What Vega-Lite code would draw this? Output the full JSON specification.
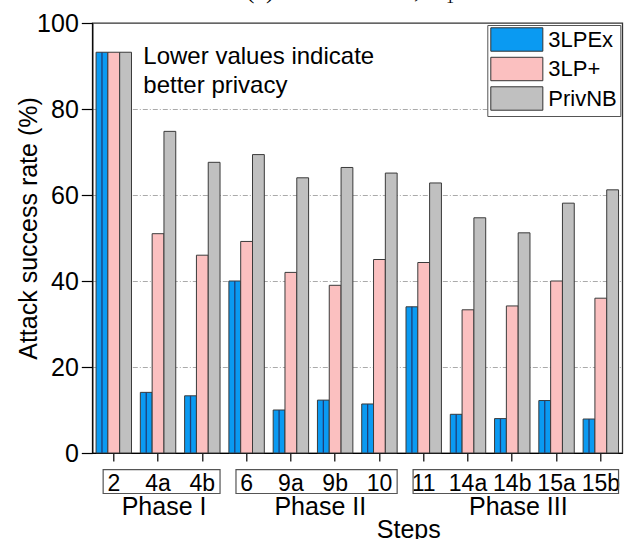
{
  "$schema": "https://vega.github.io/schema/vega-lite/v6.json",
  "width": 530,
  "height": 430,
  "autosize": {"type": "none"},
  "padding": {"left": 92.3, "top": 23, "right": 2.7, "bottom": 86},
  "title": {
    "text": "(a) First data set, D₁",
    "font": "Liberation Serif",
    "fontSize": 26,
    "fontWeight": "normal",
    "color": "#000000",
    "baseline": "alphabetic",
    "offset": -13,
    "anchor": "middle",
    "dx": -7
  },
  "config": {
    "font": "Liberation Sans",
    "view": {"stroke": "#333333", "strokeWidth": 1.3},
    "axis": {
      "domainColor": "#000000",
      "domainWidth": 1.2,
      "tickColor": "#000000",
      "tickWidth": 1.2,
      "labelColor": "#000000",
      "titleColor": "#000000",
      "labelFont": "Liberation Sans",
      "titleFont": "Liberation Sans",
      "titleFontWeight": "normal"
    }
  },
  "datasets": {
    "rates": [
      {"step": "2", "phase": "Phase I", "method": "3LPEx", "value": 93.2},
      {"step": "2", "phase": "Phase I", "method": "3LP+", "value": 93.2},
      {"step": "2", "phase": "Phase I", "method": "PrivNB", "value": 93.2},
      {"step": "4a", "phase": "Phase I", "method": "3LPEx", "value": 14.1},
      {"step": "4a", "phase": "Phase I", "method": "3LP+", "value": 51.0},
      {"step": "4a", "phase": "Phase I", "method": "PrivNB", "value": 74.8},
      {"step": "4b", "phase": "Phase I", "method": "3LPEx", "value": 13.3},
      {"step": "4b", "phase": "Phase I", "method": "3LP+", "value": 46.0},
      {"step": "4b", "phase": "Phase I", "method": "PrivNB", "value": 67.6},
      {"step": "6", "phase": "Phase II", "method": "3LPEx", "value": 40.0},
      {"step": "6", "phase": "Phase II", "method": "3LP+", "value": 49.2},
      {"step": "6", "phase": "Phase II", "method": "PrivNB", "value": 69.4},
      {"step": "9a", "phase": "Phase II", "method": "3LPEx", "value": 10.0},
      {"step": "9a", "phase": "Phase II", "method": "3LP+", "value": 42.0},
      {"step": "9a", "phase": "Phase II", "method": "PrivNB", "value": 64.0},
      {"step": "9b", "phase": "Phase II", "method": "3LPEx", "value": 12.3},
      {"step": "9b", "phase": "Phase II", "method": "3LP+", "value": 39.0},
      {"step": "9b", "phase": "Phase II", "method": "PrivNB", "value": 66.4},
      {"step": "10", "phase": "Phase II", "method": "3LPEx", "value": 11.4},
      {"step": "10", "phase": "Phase II", "method": "3LP+", "value": 45.0},
      {"step": "10", "phase": "Phase II", "method": "PrivNB", "value": 65.1},
      {"step": "11", "phase": "Phase III", "method": "3LPEx", "value": 34.0},
      {"step": "11", "phase": "Phase III", "method": "3LP+", "value": 44.3},
      {"step": "11", "phase": "Phase III", "method": "PrivNB", "value": 62.8},
      {"step": "14a", "phase": "Phase III", "method": "3LPEx", "value": 9.0},
      {"step": "14a", "phase": "Phase III", "method": "3LP+", "value": 33.3},
      {"step": "14a", "phase": "Phase III", "method": "PrivNB", "value": 54.7},
      {"step": "14b", "phase": "Phase III", "method": "3LPEx", "value": 8.0},
      {"step": "14b", "phase": "Phase III", "method": "3LP+", "value": 34.2},
      {"step": "14b", "phase": "Phase III", "method": "PrivNB", "value": 51.2},
      {"step": "15a", "phase": "Phase III", "method": "3LPEx", "value": 12.2},
      {"step": "15a", "phase": "Phase III", "method": "3LP+", "value": 40.0},
      {"step": "15a", "phase": "Phase III", "method": "PrivNB", "value": 58.1},
      {"step": "15b", "phase": "Phase III", "method": "3LPEx", "value": 7.9},
      {"step": "15b", "phase": "Phase III", "method": "3LP+", "value": 36.0},
      {"step": "15b", "phase": "Phase III", "method": "PrivNB", "value": 61.2}
    ],
    "phaseBoxes": [
      {"phase": "Phase I", "from": "2", "to": "4b"},
      {"phase": "Phase II", "from": "6", "to": "10"},
      {"phase": "Phase III", "from": "11", "to": "15b"}
    ],
    "phaseLabels": [
      {"phase": "Phase I", "at": "4a"},
      {"phase": "Phase II", "at": "9b"},
      {"phase": "Phase III", "at": "14b"}
    ],
    "notes": [
      {"note": "Lower values indicate\nbetter privacy", "at": "4a"}
    ]
  },
  "layer": [
    {
      "data": {"name": "rates"},
      "mark": {"type": "bar", "stroke": "#3a3a3a", "strokeWidth": 1},
      "encoding": {
        "x": {
          "field": "step",
          "type": "nominal",
          "title": "Steps",
          "scale": {
            "domain": ["2", "4a", "4b", "6", "9a", "9b", "10", "11", "14a", "14b", "15a", "15b"],
            "paddingInner": 0.2,
            "paddingOuter": 0.085
          },
          "axis": {
            "labelAngle": 0,
            "labelFontSize": 23,
            "labelPadding": 11,
            "tickSize": 8,
            "titleFontSize": 25,
            "titleX": 316,
            "titleY": 76,
            "titleAlign": "center",
            "titleBaseline": "middle"
          }
        },
        "xOffset": {
          "field": "method",
          "type": "nominal",
          "sort": ["3LPEx", "3LP+", "PrivNB"],
          "scale": {"paddingInner": 0, "paddingOuter": 0}
        },
        "y": {
          "field": "value",
          "type": "quantitative",
          "title": "Attack success rate (%)",
          "scale": {"domain": [0, 100], "nice": false},
          "axis": {
            "values": [0, 20, 40, 60, 80, 100],
            "labelFontSize": 25,
            "labelPadding": 3,
            "tickSize": 11,
            "grid": true,
            "gridColor": "#aaaaaa",
            "gridWidth": 1,
            "gridDash": [5, 2, 1, 2],
            "gridOpacity": {
              "condition": {"test": "datum.value === 0 || datum.value === 100", "value": 0},
              "value": 1
            },
            "titleFontSize": 25,
            "titleX": -64,
            "titleY": 205,
            "titleBaseline": "middle"
          }
        },
        "color": {
          "field": "method",
          "type": "nominal",
          "scale": {
            "domain": ["3LPEx", "3LP+", "PrivNB"],
            "range": ["#0A9AF2", "#FBC0C0", "#C0C0C0"]
          },
          "legend": {
            "title": null,
            "orient": "top-right",
            "offset": 2,
            "strokeColor": "#555555",
            "fillColor": "#ffffff",
            "padding": 3,
            "labelFontSize": 22,
            "labelColor": "#000000",
            "labelOffset": 35,
            "rowPadding": 0.5,
            "symbolType": "M-1,-1.064H3.73V1.064H-1Z",
            "symbolSize": 484,
            "symbolStrokeColor": "#333333",
            "symbolStrokeWidth": 1,
            "symbolOpacity": 1
          }
        }
      }
    },
    {
      "data": {"name": "rates"},
      "transform": [{"filter": "datum.method === '3LPEx'"}],
      "mark": {"type": "rule", "color": "#1F3F78", "strokeWidth": 1.3},
      "encoding": {
        "x": {"field": "step", "type": "nominal", "title": "Steps"},
        "xOffset": {"field": "method", "type": "nominal", "sort": ["3LPEx", "3LP+", "PrivNB"]},
        "y": {"field": "value", "type": "quantitative", "title": "Attack success rate (%)"},
        "y2": {"datum": 0}
      }
    },
    {
      "data": {"name": "phaseBoxes"},
      "mark": {"type": "rect", "fillOpacity": 0, "stroke": "#555555", "strokeWidth": 1.2},
      "encoding": {
        "x": {"field": "from", "type": "nominal", "bandPosition": 0.2, "title": "Steps"},
        "x2": {"field": "to", "bandPosition": 1},
        "y": {"datum": -3.86, "type": "quantitative"},
        "y2": {"datum": -9.42}
      }
    },
    {
      "data": {"name": "phaseLabels"},
      "transform": [{"filter": "datum.phase !== 'Phase II'"}],
      "mark": {"type": "text", "fontSize": 25, "baseline": "middle", "align": "center", "color": "#000000"},
      "encoding": {
        "x": {"field": "at", "type": "nominal", "bandPosition": 0.67, "title": "Steps"},
        "y": {"datum": -12.6, "type": "quantitative"},
        "text": {"field": "phase"}
      }
    },
    {
      "data": {"name": "phaseLabels"},
      "transform": [{"filter": "datum.phase === 'Phase II'"}],
      "mark": {"type": "text", "fontSize": 25, "baseline": "middle", "align": "center", "color": "#000000"},
      "encoding": {
        "x": {"field": "at", "type": "nominal", "bandPosition": 0.08, "title": "Steps"},
        "y": {"datum": -12.6, "type": "quantitative"},
        "text": {"field": "phase"}
      }
    },
    {
      "data": {"name": "notes"},
      "mark": {
        "type": "text",
        "fontSize": 24,
        "align": "left",
        "baseline": "middle",
        "lineBreak": "\n",
        "lineHeight": 29,
        "dx": 3,
        "color": "#000000"
      },
      "encoding": {
        "x": {"field": "at", "type": "nominal", "bandPosition": 0, "title": "Steps"},
        "y": {"datum": 92, "type": "quantitative"},
        "text": {"field": "note"}
      }
    }
  ]
}
